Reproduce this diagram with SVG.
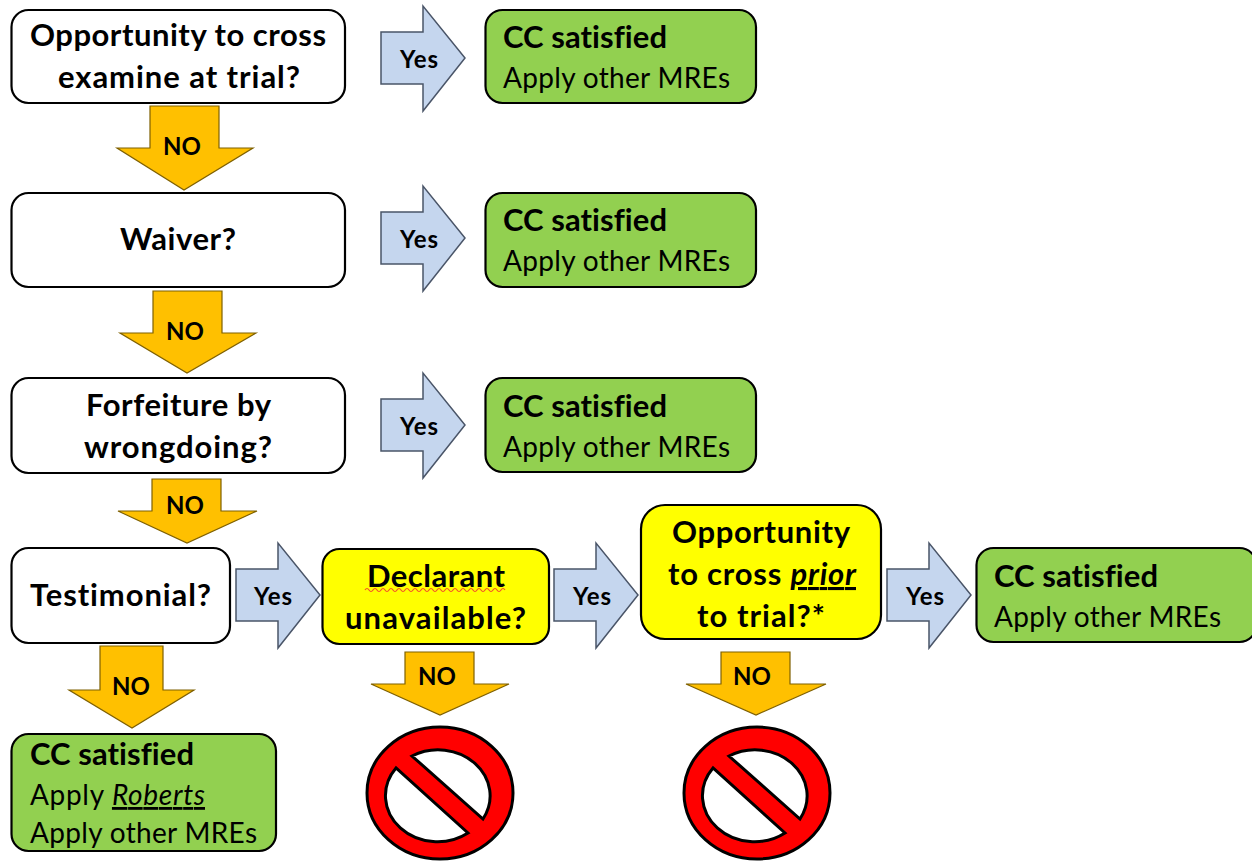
<svg xmlns="http://www.w3.org/2000/svg" width="1252" height="861" viewBox="0 0 1252 861">
<style>
.box{stroke:#000;stroke-width:2.2}
.white{fill:#fff}.green{fill:#92d050}.yellow{fill:#ff0}
.yes{fill:#c5d6ee;stroke:#4a5568;stroke-width:1.5}
.no{fill:#ffc000;stroke:#7f6000;stroke-width:1.2}
text{font-family:Lato,"Open Sans","Liberation Sans",sans-serif;fill:#000;font-variant-ligatures:none}
.q{font-size:31px;font-weight:700;text-anchor:middle}
.h{font-size:31px;font-weight:700}
.b{font-size:28px}
.a{font-size:24px;font-weight:700;text-anchor:middle}
.ban{fill:#f00;stroke:#000;stroke-width:3;fill-rule:evenodd}
</style>
<defs>
<path id="yes" class="yes" d="M0 26H42V0L84 52 42 105V78H0Z"/>
<path id="ban" class="ban" d="M-73 0A73 66 0 1 0 73 0A73 66 0 1 0 -73 0ZM-28 -37A52 46 0 0 1 43 26ZM-44 -25A52 46 0 0 0 28 40Z"/>
</defs>
<g id="connectors">
<use href="#yes" x="381" y="6"/>
<use href="#yes" x="381" y="186"/>
<use href="#yes" x="381" y="373"/>
<use href="#yes" x="236" y="543"/>
<use href="#yes" x="554" y="543"/>
<use href="#yes" x="887" y="543"/>
<path class="no" d="M150 106H219V148H253L184 190 117 148H150Z"/>
<path class="no" d="M153 291H222V333H256L187 373 120 333H153Z"/>
<path class="no" d="M152 479H221V511H257L187 543 118 511H152Z"/>
<path class="no" d="M100 646H163V690H194L132 728 69 690H100Z"/>
<path class="no" d="M405 652H474V684H509L440 715 371 684H405Z"/>
<path class="no" d="M721 652H790V684H826L756 715 686 684H721Z"/>
<text class="a" x="419" y="68" textLength="38">Yes</text>
<text class="a" x="419" y="248" textLength="38">Yes</text>
<text class="a" x="419" y="435" textLength="38">Yes</text>
<text class="a" x="273" y="605" textLength="38">Yes</text>
<text class="a" x="592" y="605" textLength="38">Yes</text>
<text class="a" x="925" y="605" textLength="38">Yes</text>
<text class="a" x="182" y="155">NO</text>
<text class="a" x="185" y="340">NO</text>
<text class="a" x="185" y="514">NO</text>
<text class="a" x="131" y="695">NO</text>
<text class="a" x="437" y="685">NO</text>
<text class="a" x="752" y="685">NO</text>
</g>
<g id="q1"><rect class="box white" x="11.5" y="10" width="333.5" height="93" rx="17"/>
<text class="q" x="178" y="46" textLength="296">Opportunity to cross</text><text class="q" x="179" y="88" textLength="242">examine at trial?</text></g>
<g id="q2"><rect class="box white" x="11.5" y="193" width="333.5" height="94" rx="17"/>
<text class="q" x="178" y="250" textLength="116">Waiver?</text></g>
<g id="q3"><rect class="box white" x="11.5" y="378" width="333.5" height="95" rx="17"/>
<text class="q" x="178.500" y="416" textLength="185">Forfeiture by</text><text class="q" x="178" y="458" textLength="188">wrongdoing?</text></g>
<g id="q4"><rect class="box white" x="11.5" y="548" width="218.500" height="95" rx="17"/>
<text class="q" x="120.500" y="606" textLength="181">Testimonial?</text></g>
<g id="q5"><rect class="box yellow" x="322.500" y="549" width="226.500" height="95" rx="17"/>
<text class="q" x="436" y="587" textLength="138">Declarant</text><text class="q" x="435.500" y="629" textLength="181">unavailable?</text>
<path d="M365 590q2-3 4 0t4 0 4 0 4 0 4 0 4 0 4 0 4 0 4 0 4 0 4 0 4 0 4 0 4 0 4 0 4 0 4 0 4 0 4 0 4 0 4 0 4 0 4 0 4 0 4 0 4 0 4 0 4 0 4 0 4 0 4 0 4 0 4 0 4 0 4 0" fill="none" stroke="#f5502a" stroke-width="1.2"/></g>
<g id="q6"><rect class="box yellow" x="641" y="505" width="240" height="134" rx="24"/>
<text class="q" x="761" y="543" textLength="178">Opportunity</text>
<text class="q" x="762" y="585" textLength="188">to cross <tspan font-style="italic" text-decoration="underline">prior</tspan></text>
<text class="q" x="761" y="627" textLength="128">to trial?*</text></g>
<g id="r1"><rect class="box green" x="485.500" y="10" width="270.500" height="93" rx="17"/>
<text class="h" x="503" y="48" textLength="164">CC satisfied</text><text class="b" x="503" y="88" textLength="227">Apply other MREs</text></g>
<g id="r2"><rect class="box green" x="485.500" y="193" width="270.500" height="94" rx="17"/>
<text class="h" x="503" y="231" textLength="164">CC satisfied</text><text class="b" x="503" y="271" textLength="227">Apply other MREs</text></g>
<g id="r3"><rect class="box green" x="485.500" y="378" width="270.500" height="94" rx="17"/>
<text class="h" x="503" y="417" textLength="164">CC satisfied</text><text class="b" x="503" y="457" textLength="227">Apply other MREs</text></g>
<g id="r4"><rect class="box green" x="976.500" y="548" width="280" height="94" rx="17"/>
<text class="h" x="994" y="587" textLength="164">CC satisfied</text><text class="b" x="994" y="627" textLength="227">Apply other MREs</text></g>
<g id="r5"><rect class="box green" x="11.5" y="734" width="264.500" height="117" rx="17"/>
<text class="h" x="30" y="765" textLength="164">CC satisfied</text>
<text class="b" x="30" y="805" textLength="175">Apply <tspan font-style="italic" text-decoration="underline">Roberts</tspan></text>
<text class="b" x="30" y="843" textLength="227">Apply other MREs</text></g>
<g id="stop1"><use href="#ban" x="440" y="793"/></g>
<g id="stop2"><use href="#ban" x="757" y="793"/></g>
</svg>
